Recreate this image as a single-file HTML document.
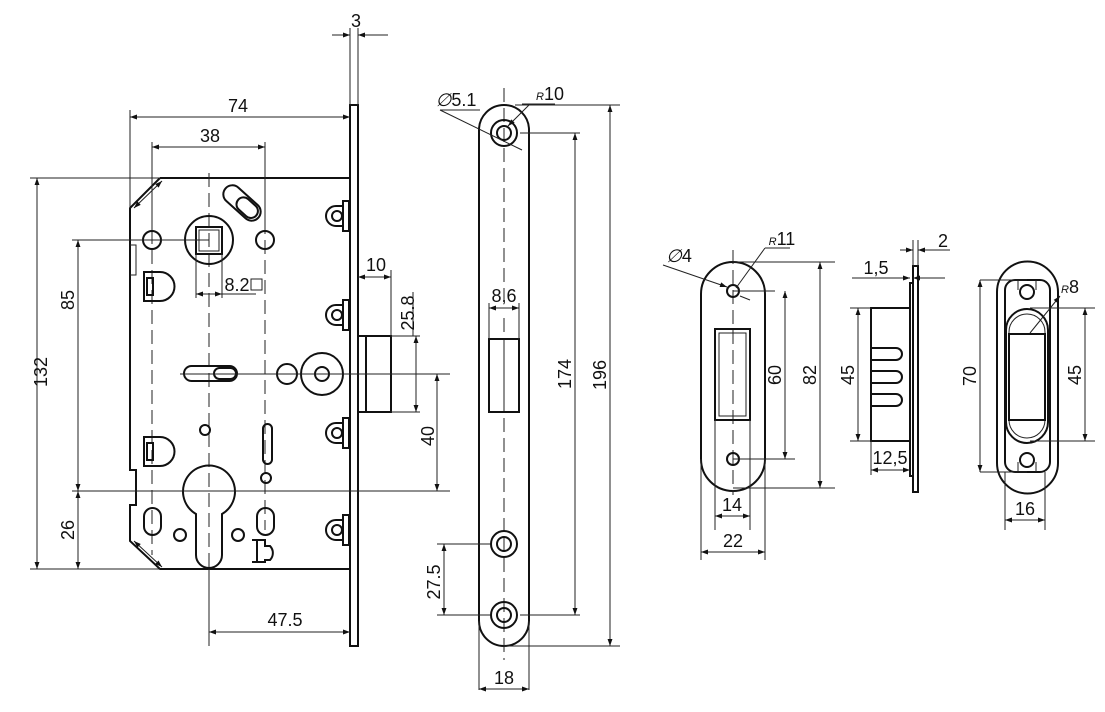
<!DOCTYPE html>
<html><head><meta charset="utf-8"><style>
html,body{margin:0;padding:0;background:#fff}
svg{display:block}
text{font-family:"Liberation Sans",sans-serif;font-size:18px;fill:#111;text-anchor:middle}
.t{stroke:#111;stroke-width:2;fill:none}
.n{stroke:#222;stroke-width:1;fill:none}
.c{stroke:#222;stroke-width:1;fill:none;stroke-dasharray:14 6}
</style></head><body>
<svg width="1105" height="712" viewBox="0 0 1105 712" xmlns="http://www.w3.org/2000/svg">
<defs>
<marker id="a" viewBox="0 0 10 10" refX="10" refY="5" markerWidth="9" markerHeight="7" orient="auto-start-reverse" markerUnits="userSpaceOnUse"><path d="M0,1.5L10,5L0,8.5z" fill="#111"/></marker>
</defs>

<!-- ===== LOCK BODY ===== -->
<path class="t" d="M160,178 L350,178 M350,569 L160,569 L130,541 L130,505 L136,505 L136,470 L130,470 L130,208 L160,178"/>
<path class="n" d="M130,245 L136,245 L136,275 L130,275"/>
<rect class="t" x="350" y="105" width="8" height="541"/>
<rect class="t" x="358" y="336" width="33" height="76"/>
<line class="t" x1="366" y1="336" x2="366" y2="412"/>
<line class="c" x1="209" y1="173" x2="209" y2="590"/>
<line class="n" x1="209" y1="565" x2="209" y2="646"/>
<line class="c" x1="152" y1="230" x2="152" y2="555"/>
<line class="c" x1="265" y1="160" x2="265" y2="530"/>
<circle class="t" cx="209" cy="240" r="24"/>
<rect class="t" x="196" y="227" width="26" height="27"/>
<rect class="n" x="199" y="230" width="20" height="21"/>
<circle class="t" cx="152" cy="240" r="9"/>
<circle class="t" cx="265" cy="240" r="9"/>
<g transform="translate(242,203) rotate(42)"><rect class="t" x="-22" y="-9" width="44" height="18" rx="9"/><rect class="t" x="-5" y="-7" width="24" height="14" rx="7"/></g>
<path class="t" d="M144,272 L160,272 A14,14 0 0 1 160,301 L144,301 Z"/>
<rect class="t" x="147" y="278" width="6" height="17"/>
<path class="t" d="M144,437 L160,437 A14,14 0 0 1 160,466 L144,466 Z"/>
<rect class="t" x="147" y="443" width="6" height="17"/>
<rect class="t" x="184" y="366" width="53" height="15" rx="7.5"/>
<rect class="t" x="214" y="368" width="22" height="11" rx="5.5"/>
<circle class="t" cx="287" cy="374" r="10"/>
<circle class="t" cx="322" cy="374" r="21"/>
<circle class="t" cx="322" cy="374" r="7"/>
<circle class="t" cx="205" cy="430" r="5"/>
<rect class="t" x="263" y="424" width="9" height="40" rx="4.5"/>
<circle class="t" cx="266" cy="478" r="5"/>
<path class="t" d="M196,514 A26,26 0 1 1 222,514 L222,555 A13,13 0 0 1 196,555 Z"/>
<rect class="t" x="144" y="508" width="17" height="27" rx="8.5"/>
<rect class="t" x="257" y="508" width="17" height="27" rx="8.5"/>
<circle class="t" cx="180" cy="535" r="6"/>
<circle class="t" cx="238" cy="535" r="6"/>
<path class="t" d="M252,540 L265,540 L265,546 L270,546 A10,10 0 0 1 270,560 L265,560 L265,562 L252,562 M257,540 L257,562"/>
<g id="b"><path class="t" d="M343,206 L336,206 A10,10 0 0 0 336,226 L343,226"/><rect class="t" x="343" y="201" width="6" height="30"/><circle class="t" cx="337" cy="216" r="5"/></g>
<use href="#b" y="99"/><use href="#b" y="217"/><use href="#b" y="314"/>
<line class="n" x1="134" y1="208" x2="162" y2="181" marker-end="url(#a)" marker-start="url(#a)"/>
<line class="n" x1="134" y1="541" x2="162" y2="567" marker-end="url(#a)" marker-start="url(#a)"/>

<line class="n" x1="130" y1="110" x2="130" y2="208"/>
<line class="n" x1="130" y1="117" x2="350" y2="117" marker-start="url(#a)" marker-end="url(#a)"/>
<text x="238" y="112">74</text>
<line class="n" x1="152" y1="142" x2="152" y2="230"/>
<line class="n" x1="265" y1="142" x2="265" y2="230"/>
<line class="n" x1="152" y1="147" x2="265" y2="147" marker-start="url(#a)" marker-end="url(#a)"/>
<text x="210" y="142">38</text>
<line class="n" x1="350" y1="28" x2="350" y2="105"/>
<line class="n" x1="358" y1="28" x2="358" y2="105"/>
<line class="n" x1="332" y1="35" x2="350" y2="35" marker-end="url(#a)"/>
<line class="n" x1="388" y1="35" x2="358" y2="35" marker-end="url(#a)"/>
<text x="356" y="27">3</text>
<line class="n" x1="30" y1="178" x2="160" y2="178"/>
<line class="n" x1="30" y1="569" x2="160" y2="569"/>
<line class="n" x1="37" y1="178" x2="37" y2="569" marker-start="url(#a)" marker-end="url(#a)"/>
<text transform="translate(47,372) rotate(-90)">132</text>
<line class="n" x1="72" y1="240" x2="209" y2="240"/>
<line class="n" x1="72" y1="491" x2="450" y2="491"/>
<line class="n" x1="78" y1="240" x2="78" y2="491" marker-start="url(#a)" marker-end="url(#a)"/>
<text transform="translate(74,300) rotate(-90)">85</text>
<line class="n" x1="78" y1="491" x2="78" y2="569" marker-start="url(#a)" marker-end="url(#a)"/>
<text transform="translate(74,530) rotate(-90)">26</text>
<line class="n" x1="196" y1="254" x2="196" y2="298"/>
<line class="n" x1="222" y1="254" x2="222" y2="298"/>
<line class="n" x1="196" y1="294" x2="222" y2="294" marker-start="url(#a)" marker-end="url(#a)"/>
<line class="n" x1="222" y1="294" x2="256" y2="294"/>
<text x="237" y="291">8.2</text>
<rect class="n" x="251" y="279" width="11" height="11"/>
<line class="n" x1="358" y1="277" x2="391" y2="277" marker-start="url(#a)" marker-end="url(#a)"/>
<line class="n" x1="391" y1="270" x2="391" y2="336"/>
<text x="376" y="271">10</text>
<line class="n" x1="391" y1="336" x2="420" y2="336"/>
<line class="n" x1="391" y1="412" x2="420" y2="412"/>
<line class="n" x1="416" y1="336" x2="416" y2="412" marker-start="url(#a)" marker-end="url(#a)"/>
<line class="n" x1="413" y1="292" x2="413" y2="336"/>
<text transform="translate(414,313) rotate(-90)">25.8</text>
<line class="n" x1="180" y1="374" x2="450" y2="374"/>
<line class="n" x1="437" y1="374" x2="437" y2="491" marker-start="url(#a)" marker-end="url(#a)"/>
<text transform="translate(434,436) rotate(-90)">40</text>
<line class="n" x1="209" y1="632" x2="350" y2="632" marker-start="url(#a)" marker-end="url(#a)"/>
<text x="285" y="626">47.5</text>

<!-- ===== FACEPLATE ===== -->
<path class="t" d="M479,130 A25,25 0 0 1 529,130 L529,621 A25,25 0 0 1 479,621 Z"/>
<line class="c" x1="504" y1="88" x2="504" y2="300"/>
<line class="c" x1="504" y1="318" x2="504" y2="660"/>
<circle class="t" cx="504" cy="133" r="13"/><circle class="t" cx="504" cy="133" r="7"/>
<circle class="t" cx="504" cy="544" r="13"/><circle class="t" cx="504" cy="544" r="7"/>
<circle class="t" cx="504" cy="615" r="13"/><circle class="t" cx="504" cy="615" r="7"/>
<rect class="t" x="489" y="339" width="30" height="73" fill="#fff"/>
<line class="c" x1="504" y1="350" x2="504" y2="405"/>
<line class="n" x1="489" y1="303" x2="489" y2="339"/><line class="n" x1="519" y1="303" x2="519" y2="339"/>
<line class="n" x1="489" y1="308" x2="519" y2="308" marker-start="url(#a)" marker-end="url(#a)"/>
<text x="504" y="302">8,6</text>
<line class="n" x1="440" y1="110" x2="522" y2="150"/>
<line class="n" x1="440" y1="110" x2="480" y2="110"/>
<text x="456" y="106"><tspan font-style="italic">∅</tspan>5.1</text>
<line class="n" x1="522" y1="104" x2="555" y2="104"/><line class="n" x1="508" y1="126" x2="530" y2="104" marker-start="url(#a)"/>
<text x="550" y="100"><tspan font-size="11" font-style="italic">R</tspan>10</text>
<line class="n" x1="515" y1="105" x2="620" y2="105"/>
<line class="n" x1="504" y1="646" x2="620" y2="646"/>
<line class="n" x1="610" y1="105" x2="610" y2="646" marker-start="url(#a)" marker-end="url(#a)"/>
<text transform="translate(606,375) rotate(-90)">196</text>
<line class="n" x1="520" y1="133" x2="580" y2="133"/>
<line class="n" x1="520" y1="615" x2="580" y2="615"/>
<line class="n" x1="575" y1="133" x2="575" y2="615" marker-start="url(#a)" marker-end="url(#a)"/>
<text transform="translate(571,374) rotate(-90)">174</text>
<line class="n" x1="437" y1="544" x2="490" y2="544"/>
<line class="n" x1="437" y1="615" x2="490" y2="615"/>
<line class="n" x1="444" y1="544" x2="444" y2="615" marker-start="url(#a)" marker-end="url(#a)"/>
<text transform="translate(440,582) rotate(-90)">27.5</text>
<line class="n" x1="479" y1="621" x2="479" y2="690"/><line class="n" x1="529" y1="621" x2="529" y2="690"/>
<line class="n" x1="479" y1="689" x2="529" y2="689" marker-start="url(#a)" marker-end="url(#a)"/>
<text x="504" y="684">18</text>

<!-- ===== STRIKE PLATE ===== -->
<path class="t" d="M701,294 A32,32 0 0 1 765,294 L765,459 A32,32 0 0 1 701,459 Z"/>
<line class="c" x1="733" y1="250" x2="733" y2="495"/>
<circle class="t" cx="733" cy="291" r="6"/>
<circle class="t" cx="733" cy="459" r="6"/>
<rect class="t" x="715" y="329" width="35" height="91"/>
<rect class="n" x="719" y="333" width="27" height="83"/>
<line class="n" x1="733" y1="291" x2="775" y2="291"/><line class="n" x1="733" y1="459" x2="795" y2="459"/>
<line class="n" x1="785" y1="291" x2="785" y2="459" marker-start="url(#a)" marker-end="url(#a)"/>
<text transform="translate(781,375) rotate(-90)">60</text>
<line class="n" x1="733" y1="262" x2="835" y2="262"/><line class="n" x1="733" y1="488" x2="835" y2="488"/>
<line class="n" x1="820" y1="262" x2="820" y2="488" marker-start="url(#a)" marker-end="url(#a)"/>
<text transform="translate(816,375) rotate(-90)">82</text>
<line class="n" x1="663" y1="265" x2="727" y2="287" marker-end="url(#a)"/><line class="n" x1="740" y1="296" x2="750" y2="300"/>
<text x="679" y="262"><tspan font-style="italic">∅</tspan>4</text>
<line class="n" x1="736" y1="288" x2="765" y2="248"/><line class="n" x1="765" y1="248" x2="790" y2="248"/>
<text x="782" y="245"><tspan font-size="11" font-style="italic">R</tspan>11</text>
<line class="n" x1="715" y1="420" x2="715" y2="530"/><line class="n" x1="750" y1="420" x2="750" y2="530"/>
<line class="n" x1="715" y1="516" x2="750" y2="516" marker-start="url(#a)" marker-end="url(#a)"/>
<text x="732" y="511">14</text>
<line class="n" x1="701" y1="459" x2="701" y2="560"/><line class="n" x1="765" y1="459" x2="765" y2="560"/>
<line class="n" x1="701" y1="552" x2="765" y2="552" marker-start="url(#a)" marker-end="url(#a)"/>
<text x="733" y="547">22</text>

<!-- ===== SIDE VIEW ===== -->
<rect class="t" x="913" y="266" width="5" height="226"/>
<rect class="t" x="910" y="283" width="3" height="193"/>
<rect class="t" x="871" y="308" width="39" height="133"/>
<path class="t" d="M871,348 L896,348 A6,6 0 0 1 896,360 L871,360 M871,371 L896,371 A6,6 0 0 1 896,383 L871,383 M871,394 L896,394 A6,6 0 0 1 896,406 L871,406"/>
<line class="n" x1="850" y1="308" x2="871" y2="308"/><line class="n" x1="850" y1="441" x2="871" y2="441"/>
<line class="n" x1="858" y1="308" x2="858" y2="441" marker-start="url(#a)" marker-end="url(#a)"/>
<text transform="translate(854,375) rotate(-90)">45</text>
<line class="n" x1="871" y1="441" x2="871" y2="475"/>
<line class="n" x1="871" y1="470" x2="910" y2="470" marker-start="url(#a)" marker-end="url(#a)"/>
<text x="890" y="464">12,5</text>
<line class="n" x1="852" y1="278" x2="910" y2="278" marker-end="url(#a)"/>
<line class="n" x1="945" y1="278" x2="913" y2="278" marker-end="url(#a)"/>
<text x="876" y="274">1,5</text>
<line class="n" x1="913" y1="240" x2="913" y2="266"/><line class="n" x1="918" y1="240" x2="918" y2="266"/>
<line class="n" x1="900" y1="250" x2="913" y2="250" marker-end="url(#a)"/>
<line class="n" x1="950" y1="250" x2="918" y2="250" marker-end="url(#a)"/>
<text x="943" y="247">2</text>

<!-- ===== RIGHT STRIKE ===== -->
<path class="t" d="M997,292 A30,30 0 0 1 1058,292 L1058,463 A30,30 0 0 1 997,463 Z"/>
<path class="t" d="M1005,290 A10,10 0 0 1 1015,280 L1040,280 A10,10 0 0 1 1050,290 L1050,462 A10,10 0 0 1 1040,472 L1015,472 A10,10 0 0 1 1005,462 Z"/>
<path class="n" d="M1018,280 L1018,290 M1036,280 L1036,290 M1018,472 L1018,462 M1036,472 L1036,462"/>
<circle class="t" cx="1027" cy="292" r="7"/>
<circle class="t" cx="1027" cy="460" r="7"/>
<path class="t" d="M1006,330 A21,21 0 0 1 1048,330 L1048,422 A21,21 0 0 1 1006,422 Z"/>
<path class="n" d="M1009,332 A18,18 0 0 1 1045,332 L1045,420 A18,18 0 0 1 1009,420 Z"/>
<rect class="t" x="1009" y="334" width="36" height="86"/>
<line class="n" x1="980" y1="280" x2="1027" y2="280"/><line class="n" x1="980" y1="472" x2="1027" y2="472"/>
<line class="n" x1="980" y1="280" x2="980" y2="472" marker-start="url(#a)" marker-end="url(#a)"/>
<text transform="translate(976,376) rotate(-90)">70</text>
<line class="n" x1="1030" y1="308" x2="1095" y2="308"/><line class="n" x1="1030" y1="441" x2="1095" y2="441"/>
<line class="n" x1="1085" y1="308" x2="1085" y2="441" marker-start="url(#a)" marker-end="url(#a)"/>
<text transform="translate(1081,375) rotate(-90)">45</text>
<line class="n" x1="1030" y1="333" x2="1060" y2="296" marker-end="url(#a)"/>
<text x="1070" y="293"><tspan font-size="11" font-style="italic">R</tspan>8</text>
<line class="n" x1="1005" y1="472" x2="1005" y2="530"/><line class="n" x1="1045" y1="472" x2="1045" y2="530"/>
<line class="n" x1="1005" y1="520" x2="1045" y2="520" marker-start="url(#a)" marker-end="url(#a)"/>
<text x="1025" y="515">16</text>
</svg>
</body></html>
